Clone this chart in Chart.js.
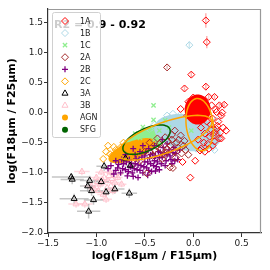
<!DOCTYPE html>
<html><head><meta charset="utf-8">
<script src="https://cdn.jsdelivr.net/npm/chart.js@4/dist/chart.umd.min.js"></script>
<style>html,body{margin:0;padding:0;background:#fff}</style>
</head><body>
<canvas id="c" width="270" height="270"></canvas>
<script>
// ---------- DATA ----------
const categories = ['1A','1B','1C','2A','2B','2C','3A','3B','AGN','SFG'];
const xTicks = [-1.5,-1.0,-0.5,0.0,0.5];
const yTicks = [-2.0,-1.5,-1.0,-0.5,0.0,0.5,1.0,1.5];
const xTitle = 'log(F18\u03bcm / F15\u03bcm)';
const yTitle = 'log(F18\u03bcm / F25\u03bcm)';
const corrText = 'R2 = 0.9 - 0.92';

const s1A = [[0.13,1.53],[0.14,1.17],[-0.02,0.63],[-0.09,0.40],[0.13,0.43],[0.16,0.26],[0.22,0.26],[0.27,0.12],[0.32,0.13],[0.29,-0.05],[0.24,0.01],[0.10,0.01],[-0.13,0.06],[0.24,-0.27],[0.29,-0.43],[0.08,-0.60],[0.02,-0.80],[-0.11,-0.82],[-0.03,-1.08],[0.07,-0.63],[0.12,-0.65],[0.22,-0.48],[0.27,-0.43],[0.20,-0.10],[0.18,-0.20],[0.15,-0.05],[0.31,-0.25],[0.05,0.15],[0.00,0.25],[-0.05,0.18],[0.10,0.20],[0.12,-0.35],[0.17,-0.40],[0.20,-0.55],[0.05,-0.45],[-0.06,-0.05],[0.34,-0.30],[0.26,-0.15],[0.19,0.12],[0.22,-0.33],[0.15,-0.52],[0.06,0.05],[-0.03,0.08],[0.12,0.08],[0.25,-0.22],[0.18,-0.28],[0.08,-0.25],[0.14,-0.15],[0.30,0.00],[0.02,-0.12],[0.21,-0.38],[0.28,-0.33],[0.16,-0.60],[0.11,-0.50],[0.23,0.05]];
const e1A = [0.12,0.1,0.05,0.05,0.06,0.05,0.04,0.04,0.04,0.04];
const s1B = [[-0.04,1.12],[-0.27,-0.05],[-0.21,-0.02],[-0.14,-0.05],[0.24,-0.13],[0.25,-0.33],[-0.35,-0.25],[-0.30,-0.20],[-0.25,-0.15],[-0.18,-0.12],[-0.10,-0.12],[-0.05,-0.20],[0.00,-0.30],[0.05,-0.38],[0.10,-0.42],[0.15,-0.47],[0.20,-0.58],[-0.28,-0.30],[0.18,-0.36],[0.10,-0.62],[-0.12,-0.50],[0.03,-0.60],[0.22,-0.62],[-0.40,-0.20],[-0.45,-0.28],[-0.20,-0.35],[0.13,-0.25],[-0.08,-0.40]];
const e1B = [0.06];
const s1C = [[-0.41,0.12],[-0.41,-0.12],[-0.29,-0.13],[-0.52,-0.24],[-0.02,-0.30],[-0.45,-0.35],[-0.35,-0.30],[-0.55,-0.42],[-0.40,-0.45],[-0.60,-0.35],[-0.25,-0.25],[-0.50,-0.30]];
const s2A = [[-0.27,0.75],[-0.21,-0.92],[-0.48,-1.01],[-0.37,-0.43],[-0.29,-0.41],[-0.22,-0.37],[-0.19,-0.30],[-0.17,-0.50],[-0.24,-0.55],[-0.33,-0.60],[-0.24,-0.91],[-0.45,-0.50],[-0.40,-0.62],[-0.30,-0.70],[-0.20,-0.65],[-0.15,-0.45],[-0.10,-0.55],[-0.12,-0.68],[-0.35,-0.52],[-0.27,-0.60],[-0.50,-0.65],[-0.18,-0.75],[-0.08,-0.62],[-0.42,-0.72],[-0.13,-0.38],[-0.05,-0.70],[-0.26,-0.48],[-0.32,-0.77],[-0.38,-0.56],[-0.22,-0.45],[-0.16,-0.58],[-0.09,-0.47],[-0.28,-0.66]];
const e2A = [0.03];
const s2B = [[-0.80,-0.80],[-0.78,-0.92],[-0.75,-1.00],[-0.72,-0.85],[-0.70,-0.95],[-0.68,-1.05],[-0.66,-0.78],[-0.65,-0.90],[-0.63,-1.00],[-0.60,-0.70],[-0.60,-0.85],[-0.58,-0.95],[-0.56,-0.78],[-0.55,-0.65],[-0.54,-0.88],[-0.52,-1.00],[-0.50,-0.72],[-0.50,-0.82],[-0.48,-0.92],[-0.46,-0.60],[-0.45,-0.75],[-0.44,-0.85],[-0.42,-0.68],[-0.40,-0.80],[-0.40,-0.55],[-0.38,-0.90],[-0.36,-0.65],[-0.35,-0.75],[-0.33,-0.85],[-0.31,-0.58],[-0.30,-0.68],[-0.28,-0.80],[-0.27,-0.52],[-0.25,-0.62],[-0.24,-0.72],[-0.22,-0.85],[-0.20,-0.58],[-0.18,-0.68],[-0.16,-0.78],[-0.14,-0.62],[-0.70,-0.70],[-0.74,-0.78],[-0.85,-0.88],[-0.82,-1.02],[-0.62,-0.60],[-0.52,-0.55],[-0.57,-1.08],[-0.43,-0.98],[-0.35,-0.95],[-0.32,-0.45],
  [-0.77,-0.86],[-0.73,-0.93],[-0.69,-0.82],[-0.67,-0.98],[-0.64,-0.84],[-0.61,-0.93],[-0.59,-0.77],[-0.57,-0.87],[-0.55,-0.96],[-0.53,-0.74],[-0.51,-0.90],[-0.49,-0.66],[-0.47,-0.82],[-0.46,-0.96],[-0.44,-0.70],[-0.41,-0.88],[-0.39,-0.72],[-0.37,-0.82],[-0.34,-0.66],[-0.32,-0.74],[-0.29,-0.88],[-0.27,-0.70],[-0.23,-0.78],[-0.21,-0.66],[-0.19,-0.80],[-0.62,-1.06],[-0.47,-1.04],[-0.39,-0.97],[-0.80,-0.96],[-0.88,-0.93]];
const s2C = [[-0.88,-0.55],[-0.86,-0.69],[-0.78,-0.74],[-0.69,-0.63],[-0.93,-0.77],[-0.84,-0.72],[-0.75,-0.58],[-0.65,-0.72],[-0.60,-0.55],[-0.55,-0.80],[-0.72,-0.50],[-0.80,-0.62],[-0.50,-0.60],[-0.62,-0.85],[-0.45,-0.65],[-0.70,-0.80],[-0.58,-0.65],[-0.76,-0.68],[-0.82,-0.57],[-0.90,-0.65],[-0.67,-0.56]];
const s3A = [[-1.26,-1.07],[-1.25,-1.11],[-1.23,-1.43],[-1.07,-1.13],[-1.09,-1.22],[-1.05,-1.30],[-1.03,-1.45],[-1.08,-1.64],[-0.92,-0.89],[-0.81,-1.27],[-0.70,-0.76],[-0.66,-1.34],[-0.90,-1.32],[-0.65,-0.88],[-0.95,-1.15]];
const e3Ax = [0.20,0.12,0.15,0.10,0.08,0.12,0.10,0.12,0.08,0.10,0.06,0.08,0.08,0.05,0.08];
const e3Ay = [0.06,0.08,0.08,0.08,0.10,0.08,0.08,0.12,0.08,0.08,0.06,0.08,0.06,0.06,0.06];
const s3B = [[-1.15,-0.98],[-0.86,-0.99],[-1.00,-1.08],[-0.96,-1.19],[-0.88,-1.13],[-0.78,-1.08],[-0.74,-1.19],[-0.83,-1.30],[-0.95,-0.99],[-1.05,-1.22],[-0.81,-1.16],[-0.93,-1.36],[-1.02,-1.27],[-0.90,-1.44],[-1.12,-1.52],[-1.21,-1.52],[-0.81,-1.05],[-0.92,-1.08],[-0.85,-1.22],[-0.98,-1.30],[-0.76,-1.00],[-0.89,-1.25],[-0.94,-1.12],[-0.87,-1.05],[-0.99,-1.15],[-0.84,-1.10]];
const e3Bx = [0.08,0.06,0.08,0.06,0.06,0.05,0.05,0.06,0.06,0.08,0.05,0.06,0.06,0.06,0.08,0.08];
const e3By = [0.06,0.05,0.06,0.06,0.05,0.05,0.05,0.06,0.05,0.06,0.05,0.06,0.06,0.06,0.06,0.06];
const sAGN = [];
const sSFG = [];

// template regions (centre, semi-axis vectors, data units)
const regionCenters = [[-0.482,-0.45],[-0.057,-0.333],[-0.634,-0.633],[0.046,0.05]];
const regionAxisU   = [[0.233,0.173],[0.345,-0.098],[0.239,0.157],[0.134,0.0]];
const regionAxisV   = [[0.046,-0.162],[-0.032,-0.295],[0.035,-0.139],[0.0,0.25]];
const ringCenters = [[-0.482,-0.45],[-0.294,-0.417],[0.067,-0.20]];
const ringAxisU   = [[0.24,0.178],[0.485,0.285],[-0.031,0.433]];
const ringAxisV   = [[0.047,-0.167],[0.052,-0.237],[0.139,0.025]];

// ---------- STYLE ----------
const regionColors = ['#90ee90','#add8e6','#ffa500','#ff0000'];
const ringColors = ['#006400','#ffa500','#ffa500'];
const FONT = "'DejaVu Sans', sans-serif";
const toPts = a => a.map(p => ({x:p[0], y:p[1]}));
const fmt = v => (v < 0 ? '\u2212' : '') + Math.abs(v).toFixed(1);

function ds(label, data, style, color, radius, fill, order, bw) {
  return {label, data: toPts(data), pointStyle: style, pointRadius: radius, pointHoverRadius: radius,
    borderColor: color, backgroundColor: fill, pointBorderWidth: bw || 1, borderWidth: bw || 1, order, showLine:false};
}
const datasets = [
  ds(categories[0], s1A, 'rectRot', '#ff0000', 3.5, 'rgba(255,255,255,0)', 1),
  ds(categories[1], s1B, 'rectRot', '#add8e6', 3.5, 'rgba(255,255,255,0)', 6),
  ds(categories[2], s1C, 'crossRot', '#90ee90', 3, '#90ee90', 3, 1.3),
  ds(categories[3], s2A, 'rectRot', '#a52a2a', 3.5, 'rgba(255,255,255,0)', 2),
  ds(categories[4], s2B, 'cross', '#800080', 3, '#800080', 4, 1.3),
  ds(categories[5], s2C, 'rectRot', '#ffa500', 3.5, 'rgba(255,255,255,0)', 5),
  ds(categories[6], s3A, 'triangle', '#000000', 3.5, 'rgba(255,255,255,0)', 0),
  ds(categories[7], s3B, 'triangle', '#ffc0cb', 3.5, 'rgba(255,255,255,0)', 7),
  ds(categories[8], sAGN, 'circle', '#ffa500', 3, '#ffa500', 8),
  ds(categories[9], sSFG, 'circle', '#006400', 3, '#006400', 9)
];
const errorSets = [
  {pts: s1A, ex: [], ey: e1A, color: 'rgba(255,0,0,0.3)'},
  {pts: s1B, ex: [], ey: e1B, color: 'rgba(173,216,230,0.6)'},
  {pts: s2A, ex: [], ey: e2A, color: 'rgba(165,42,42,0.3)'},
  {pts: s3B, ex: e3Bx, ey: e3By, color: 'rgba(255,192,203,0.6)'},
  {pts: s3A, ex: e3Ax, ey: e3Ay, color: 'rgba(150,150,150,0.55)'}
];

function ellipsePath(ctx, chart, c, u, v) {
  const xs = chart.scales.x, ys = chart.scales.y;
  ctx.beginPath();
  for (let i = 0; i <= 72; i++) {
    const t = i / 72 * Math.PI * 2;
    const px = xs.getPixelForValue(c[0] + u[0]*Math.cos(t) + v[0]*Math.sin(t));
    const py = ys.getPixelForValue(c[1] + u[1]*Math.cos(t) + v[1]*Math.sin(t));
    if (i === 0) ctx.moveTo(px, py); else ctx.lineTo(px, py);
  }
  ctx.closePath();
}

function drawMarker(ctx, style, x, y, r, stroke, fill, lw) {
  ctx.save();
  ctx.strokeStyle = stroke; ctx.fillStyle = fill; ctx.lineWidth = lw;
  ctx.beginPath();
  if (style === 'rectRot') {
    ctx.moveTo(x, y - r); ctx.lineTo(x + r, y); ctx.lineTo(x, y + r); ctx.lineTo(x - r, y); ctx.closePath();
    ctx.fill(); ctx.stroke();
  } else if (style === 'crossRot') {
    const d = r * Math.SQRT1_2;
    ctx.moveTo(x - d, y - d); ctx.lineTo(x + d, y + d); ctx.moveTo(x + d, y - d); ctx.lineTo(x - d, y + d); ctx.stroke();
  } else if (style === 'cross') {
    ctx.moveTo(x - r, y); ctx.lineTo(x + r, y); ctx.moveTo(x, y - r); ctx.lineTo(x, y + r); ctx.stroke();
  } else if (style === 'triangle') {
    ctx.moveTo(x, y - r); ctx.lineTo(x + r*0.866, y + r*0.5); ctx.lineTo(x - r*0.866, y + r*0.5); ctx.closePath();
    ctx.fill(); ctx.stroke();
  } else {
    ctx.arc(x, y, r, 0, Math.PI*2); ctx.fill();
  }
  ctx.restore();
}

const deco = {
  id: 'deco',
  beforeDatasetsDraw(chart) {
    const {ctx, chartArea: a} = chart;
    const xs = chart.scales.x, ys = chart.scales.y;
    ctx.save();
    ctx.beginPath(); ctx.rect(a.left, a.top, a.right - a.left, a.bottom - a.top); ctx.clip();
    regionCenters.forEach((c, i) => {
      ellipsePath(ctx, chart, c, regionAxisU[i], regionAxisV[i]);
      ctx.fillStyle = regionColors[i]; ctx.fill();
    });
    errorSets.forEach(es => {
      ctx.strokeStyle = es.color; ctx.lineWidth = 1.5;
      es.pts.forEach((p, i) => {
        const ex = es.ex[i] || 0, ey = es.ey[i] || 0;
        ctx.beginPath();
        if (ex) { ctx.moveTo(xs.getPixelForValue(p[0]-ex), ys.getPixelForValue(p[1])); ctx.lineTo(xs.getPixelForValue(p[0]+ex), ys.getPixelForValue(p[1])); }
        if (ey) { ctx.moveTo(xs.getPixelForValue(p[0]), ys.getPixelForValue(p[1]-ey)); ctx.lineTo(xs.getPixelForValue(p[0]), ys.getPixelForValue(p[1]+ey)); }
        ctx.stroke();
      });
    });
    ctx.restore();
  },
  afterDatasetsDraw(chart) {
    const {ctx, chartArea: a} = chart;
    ctx.save();
    ctx.beginPath(); ctx.rect(a.left, a.top, a.right - a.left, a.bottom - a.top); ctx.clip();
    ringCenters.forEach((c, i) => {
      ellipsePath(ctx, chart, c, ringAxisU[i], ringAxisV[i]);
      ctx.strokeStyle = ringColors[i]; ctx.lineWidth = 1.5; ctx.stroke();
    });
    ctx.restore();
    ctx.save();
    ctx.strokeStyle = '#999'; ctx.lineWidth = 1.2;
    ctx.beginPath();
    ctx.moveTo(a.left, a.top + 0.5); ctx.lineTo(a.right - 0.5, a.top + 0.5); ctx.lineTo(a.right - 0.5, a.bottom);
    ctx.stroke();
    ctx.restore();
    ctx.save();
    ctx.font = "bold 11px " + FONT; ctx.fillStyle = '#000'; ctx.textBaseline = 'alphabetic';
    ctx.fillText(corrText, a.left + 6, a.top + 19);
    ctx.restore();
  },
  afterDraw(chart) {
    const {ctx, chartArea: a} = chart;
    const L = a.left + 4, T = a.top + 3, W = 48, H = 125;
    ctx.save();
    ctx.fillStyle = 'rgba(255,255,255,0.8)'; ctx.strokeStyle = '#d0d0d0'; ctx.lineWidth = 1;
    ctx.beginPath();
    if (ctx.roundRect) ctx.roundRect(L + 0.5, T + 0.5, W, H, 2); else ctx.rect(L + 0.5, T + 0.5, W, H);
    ctx.fill(); ctx.stroke();
    ctx.font = "8px " + FONT; ctx.fillStyle = '#222'; ctx.textBaseline = 'middle'; ctx.textAlign = 'left';
    chart.data.datasets.forEach((d, i) => {
      const y = T + 9 + i * 12.07;
      drawMarker(ctx, d.pointStyle, L + 13, y, d.pointRadius, d.borderColor, d.backgroundColor, d.pointBorderWidth);
      ctx.fillText(d.label, L + 28, y + 0.5);
    });
    ctx.restore();
  }
};

new Chart(document.getElementById('c'), {
  type: 'scatter',
  data: {datasets},
  options: {
    responsive: false, animation: false, devicePixelRatio: 1,
    layout: {padding: {top: 9, right: 9, left: 0, bottom: 0}},
    plugins: {legend: {display: false}, tooltip: {enabled: false}},
    scales: {
      x: {
        type: 'linear', min: -1.5, max: 0.7,
        afterBuildTicks: s => { s.ticks = xTicks.map(v => ({value: v})); },
        afterFit: s => { s.height = 37; },
        ticks: {callback: v => fmt(v), font: {family: FONT, size: 9}, color: '#222', padding: 1, maxRotation: 0, autoSkip: false},
        grid: {drawOnChartArea: false, drawTicks: true, tickLength: 4, color: '#333', tickWidth: 1},
        border: {display: true, color: '#333', width: 1.2},
        title: {display: true, text: xTitle, font: {family: FONT, size: 11, weight: 'bold'}, color: '#000', padding: {top: 0, bottom: 7}}
      },
      y: {
        type: 'linear', min: -2.0, max: 1.72,
        afterBuildTicks: s => { s.ticks = yTicks.map(v => ({value: v})); },
        afterFit: s => { s.width = 48; },
        ticks: {callback: v => fmt(v), font: {family: FONT, size: 9}, color: '#222', padding: 1, autoSkip: false},
        grid: {drawOnChartArea: false, drawTicks: true, tickLength: 4, color: '#333', tickWidth: 1},
        border: {display: true, color: '#333', width: 1.2},
        title: {display: true, text: yTitle, font: {family: FONT, size: 11, weight: 'bold'}, color: '#000', padding: {top: 6, bottom: 0}}
      }
    }
  },
  plugins: [deco]
});
</script>
</body></html>
